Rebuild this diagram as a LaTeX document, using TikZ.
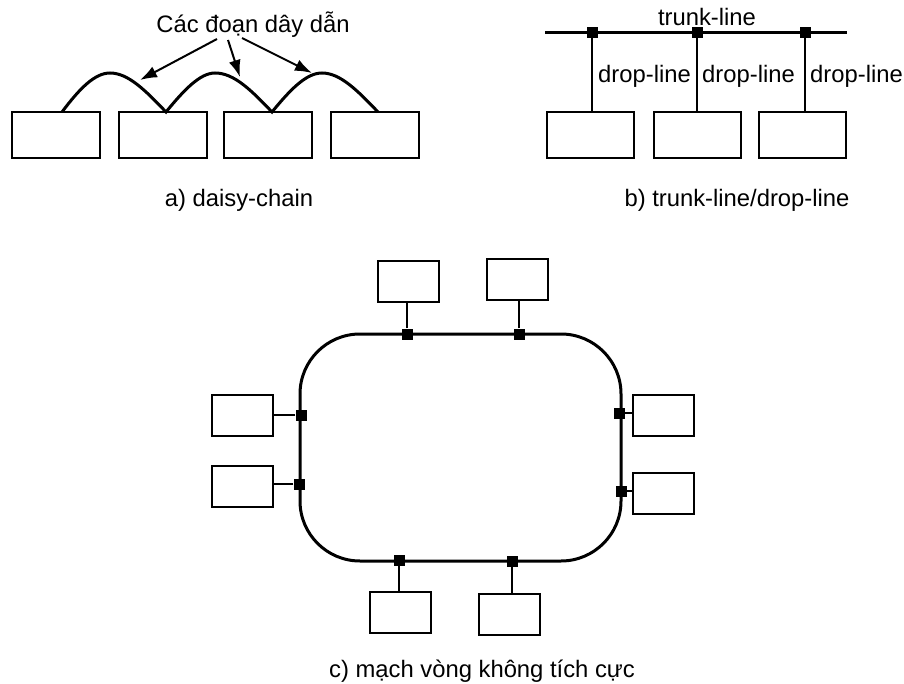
\documentclass[tikz,border=0pt]{standalone}
\usepackage{fontspec}
\setmainfont{Liberation Sans}
\usetikzlibrary{arrows.meta,calc}
\begin{document}
\begin{tikzpicture}[x=1pt,y=-1pt,
  box/.style={draw,line width=2pt,minimum width=88pt,minimum height=46pt,inner sep=0pt},
  sbox/.style={draw,line width=2pt,minimum width=61pt,minimum height=41pt,inner sep=0pt},
  tap/.style={fill=black,minimum size=11pt,inner sep=0pt},
  lbl/.style={font=\fontsize{23.8}{28}\selectfont,inner sep=0pt,anchor=base},
  wire/.style={line width=3pt},
  drop/.style={line width=2pt},
  pointer/.style={line width=2pt,-{Latex[length=17pt,width=12pt]}}]
\useasboundingbox (0,0) rectangle (904,684);
% ---------- a) daisy-chain
\node[box] (a1) at (56,135) {};
\node[box] (a2) at (162.5,135) {};
\node[box] (a3) at (268,135) {};
\node[box] (a4) at (375,135) {};
\coordinate (w1) at (62,112);
\coordinate (w2) at (166,112);
\coordinate (w3) at (272,112);
\coordinate (w4) at (378,112);
\draw[wire] (w1) .. controls (80,88) and (95,73) .. (110,73) .. controls (128,73) and (145,90) .. (w2)
  .. controls (184,90) and (200,73) .. (215,73) .. controls (234,73) and (251,90) .. (w3)
  .. controls (290,90) and (306,73) .. (322,73) .. controls (340,73) and (357,90) .. (w4);
\node[lbl] (cap) at (253,33) {Các đoạn dây dẫn};
\coordinate (p1) at (140,80);
\coordinate (p2) at (240,77);
\coordinate (p3) at (312,73);
\draw[pointer] (217,39) -- (p1);
\draw[pointer] (228,40) -- (p2);
\draw[pointer] (242,38) -- (p3);
\node[lbl] (capa) at (239,207) {a) daisy-chain};
% ---------- b) trunk-line/drop-line
\coordinate (tl) at (545,33);
\coordinate (tr) at (847,33);
\draw[wire] (tl) -- (tr);
\node[box,minimum width=87pt] (b1) at (590.5,135) {};
\node[box,minimum width=87pt] (b2) at (697.5,135) {};
\node[box,minimum width=87pt] (b3) at (802.5,135) {};
\node[tap] (t1) at (592,33) {};
\node[tap] (t2) at (697,33) {};
\node[tap] (t3) at (805,33) {};
\draw[drop] (t1.center) -- (t1.center |- b1.north);
\draw[drop] (t2.center) -- (t2.center |- b2.north);
\draw[drop] (t3.center) -- (t3.center |- b3.north);
\node[lbl] (trunk) at (707,26) {trunk-line};
\node[lbl,anchor=base west] (d1) at (598,83) {drop-line};
\node[lbl,anchor=base west] (d2) at (702,83) {drop-line};
\node[lbl,anchor=base west] (d3) at (810,83) {drop-line};
\node[lbl] (capb) at (737,207) {b) trunk-line/drop-line};
% ---------- c) ring
\draw[wire,rounded corners=60pt] (300,334) rectangle (621,561);
\node[sbox] (c1) at (408,281.5) {};
\node[sbox] (c2) at (517.5,279.5) {};
\node[sbox] (c3) at (242.5,415) {};
\node[sbox] (c4) at (242.5,486) {};
\node[sbox] (c5) at (663.5,415) {};
\node[sbox] (c6) at (663.5,493) {};
\node[sbox] (c7) at (400.5,612.5) {};
\node[sbox] (c8) at (509.5,614) {};
\node[tap] (r1) at (407,334) {};
\node[tap] (r2) at (519,334) {};
\node[tap] (r3) at (301,415) {};
\node[tap] (r4) at (299,484) {};
\node[tap] (r5) at (619,413) {};
\node[tap] (r6) at (621,491) {};
\node[tap] (r7) at (399,560) {};
\node[tap] (r8) at (512,561) {};
\draw[drop] (r1) -- (r1 |- c1.south);
\draw[drop] (r2) -- (r2 |- c2.south);
\draw[drop] (r3) -- (c3.east);
\draw[drop] (r4) -- (c4.east |- r4);
\draw[drop] (r5) -- (c5.west |- r5);
\draw[drop] (r6) -- (c6.west |- r6);
\draw[drop] (r7) -- (r7 |- c7.north);
\draw[drop] (r8) -- (r8 |- c8.north);
\node[lbl] (capc) at (482,677) {c) mạch vòng không tích cực};
\end{tikzpicture}
\end{document}
